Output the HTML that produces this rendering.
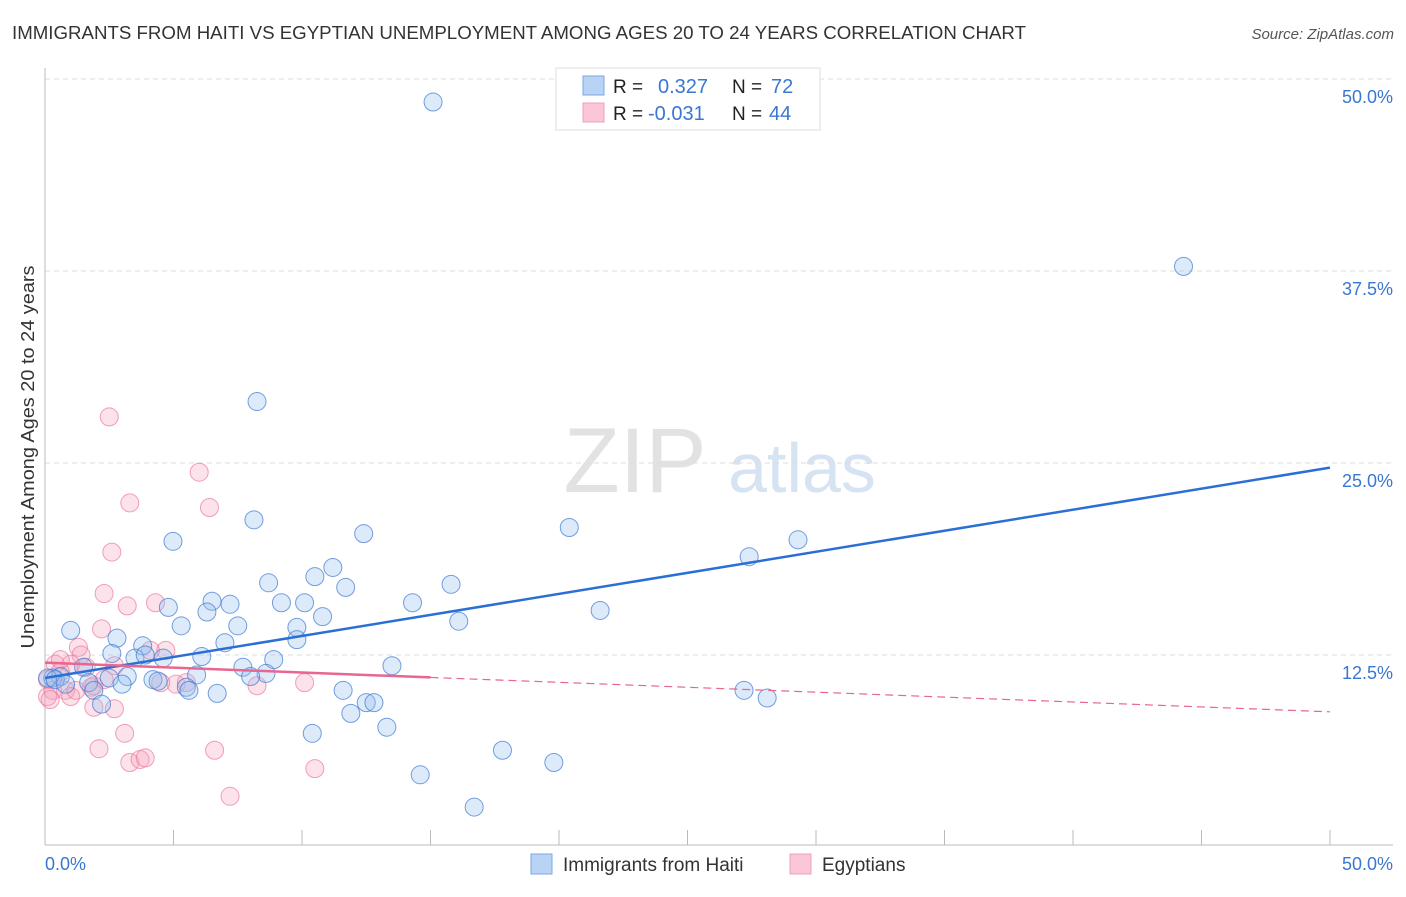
<!DOCTYPE html>
<html><head><meta charset="utf-8"><style>
body{margin:0;background:#fff;font-family:"Liberation Sans",sans-serif;}
svg text{font-family:"Liberation Sans",sans-serif;}
</style></head><body>
<svg id="chart" width="1406" height="892">
<text x="12" y="39" font-size="18" fill="#333" textLength="1014" lengthAdjust="spacingAndGlyphs">IMMIGRANTS FROM HAITI VS EGYPTIAN UNEMPLOYMENT AMONG AGES 20 TO 24 YEARS CORRELATION CHART</text>
<text x="1394" y="39" font-size="15" fill="#555" font-style="italic" text-anchor="end">Source: ZipAtlas.com</text>
<text x="635" y="492" font-size="92" fill="#e2e2e2" font-family="Liberation Serif" text-anchor="middle">ZIP</text>
<text x="802" y="492" font-size="70" fill="#d5e3f3" text-anchor="middle">atlas</text>
<text transform="translate(34,457) rotate(-90)" font-size="18" fill="#333" text-anchor="middle" textLength="383" lengthAdjust="spacingAndGlyphs">Unemployment Among Ages 20 to 24 years</text>
<g id="grid"></g><g id="pts"></g><g id="lines"></g>
<g>
<rect x="556" y="68" width="264" height="62" fill="#fff" stroke="#ddd"/>
<rect x="583" y="76" width="21" height="19" fill="#b9d3f5" stroke="#7aa7e4"/>
<rect x="583" y="103" width="21" height="19" fill="#fbc7d6" stroke="#eea0b8"/>
<text x="613" y="93" font-size="19" fill="#222">R =</text><text x="658" y="93" font-size="20" fill="#3a77d0">0.327</text>
<text x="732" y="93" font-size="19" fill="#222">N =</text><text x="771" y="93" font-size="20" fill="#3a77d0">72</text>
<text x="613" y="120" font-size="19" fill="#222">R =</text><text x="648" y="120" font-size="20" fill="#3a77d0">-0.031</text>
<text x="732" y="120" font-size="19" fill="#222">N =</text><text x="769" y="120" font-size="20" fill="#3a77d0">44</text>
</g>
<g>
<rect x="531" y="854" width="21" height="20" fill="#b9d3f5" stroke="#7aa7e4"/>
<text x="563" y="871" font-size="19" fill="#333">Immigrants from Haiti</text>
<rect x="790" y="854" width="21" height="20" fill="#fbc7d6" stroke="#eea0b8"/>
<text x="822" y="871" font-size="19" fill="#333">Egyptians</text>
</g>
</svg>
<script>
const blueX=[15.1,44.3,8.25,8.13,12.4,20.4,4.98,29.3,27.4,11.2,10.5,8.7,11.7,15.8,4.8,6.5,7.2,6.3,9.2,10.1,10.8,14.3,21.6,16.1,5.3,1.0,7.5,9.8,9.8,2.8,7.0,3.8,2.6,3.5,4.6,3.9,6.1,8.9,13.5,7.7,8.6,1.5,0.6,0.3,2.5,3.2,4.2,4.4,5.9,8.0,1.7,3.0,1.9,5.5,5.6,6.7,11.6,27.2,28.1,2.2,12.5,12.8,11.9,10.4,13.3,17.8,19.8,14.6,16.7,0.1,0.4,0.8];
const blueY=[48.5,37.8,29.0,21.3,20.4,20.8,19.9,20.0,18.9,18.2,17.6,17.2,16.9,17.1,15.6,16.0,15.8,15.3,15.9,15.9,15.0,15.9,15.4,14.7,14.4,14.1,14.4,14.3,13.5,13.6,13.3,13.1,12.6,12.3,12.3,12.5,12.4,12.2,11.8,11.7,11.3,11.7,11.1,11.0,11.0,11.1,10.9,10.8,11.2,11.1,10.7,10.6,10.2,10.4,10.2,10.0,10.2,10.2,9.7,9.3,9.4,9.4,8.7,7.4,7.8,6.3,5.5,4.7,2.6,11.0,10.9,10.6];
const pinkX=[2.5,6.0,6.4,3.3,2.6,2.3,3.2,4.3,2.2,1.3,1.4,4.7,4.1,2.7,1.0,0.4,0.6,0.1,0.3,0.1,0.8,1.0,1.2,1.8,1.9,2.3,5.1,5.5,4.5,8.25,10.1,1.9,2.7,3.1,2.1,6.6,3.3,3.7,3.9,10.5,7.2,0.6,1.6,0.2];
const pinkY=[28.0,24.4,22.1,22.4,19.2,16.5,15.7,15.9,14.2,13.0,12.5,12.8,12.8,11.8,11.9,11.9,11.4,10.9,10.2,9.8,10.2,9.8,10.2,10.4,10.5,10.9,10.6,10.7,10.7,10.5,10.7,9.1,9.0,7.4,6.4,6.3,5.5,5.7,5.8,5.1,3.3,12.2,11.7,9.6];
const blueTrend=[11.0,24.7];
const pinkTrend=[12.0,8.8];
const yTicks=[12.5,25.0,37.5,50.0];
const xTicks=[0,5,10,15,20,25,30,35,40,45,50];
const NS="http://www.w3.org/2000/svg";
const X=v=>45+v/50*1285, Y=v=>847-v/12.5*192;
function mk(tag,attrs,parent,text){const e=document.createElementNS(NS,tag);for(const k in attrs)e.setAttribute(k,attrs[k]);if(text!==undefined)e.textContent=text;parent.appendChild(e);return e;}
const grid=document.getElementById('grid');
yTicks.forEach(t=>{
 const l=mk('line',{x1:45,x2:1393,y1:Y(t),y2:Y(t),stroke:'#ddd','stroke-dasharray':'5,4'},grid);
 
 
 const tx=mk('text',{x:1393,y:Y(t)+24,'font-size':18,fill:'#3a77d0','text-anchor':'end'},grid,t.toFixed(1)+'%');
 
 
});
const ax=mk('line',{x1:45,x2:45,y1:68,y2:845,stroke:'#bbb'},grid);


const bx=mk('line',{x1:45,x2:1393,y1:845,y2:845,stroke:'#bbb'},grid);


xTicks.forEach(t=>{
 const l=mk('line',{x1:X(t),x2:X(t),y1:830,y2:845,stroke:'#bbb'},grid);
 
 
});
const xl0=mk('text',{x:45,y:870,'font-size':18,fill:'#3a77d0'},grid,'0.0%');


const xl1=mk('text',{x:1393,y:870,'font-size':18,fill:'#3a77d0','text-anchor':'end'},grid,'50.0%');


const pts=document.getElementById('pts');
pinkX.forEach((x,i)=>{
 const c=mk('circle',{cx:X(x),cy:Y(pinkY[i]),r:9,fill:'rgba(246,160,187,0.3)',stroke:'rgba(236,120,156,0.7)','stroke-width':1},pts);
 
 
});
blueX.forEach((x,i)=>{
 const c=mk('circle',{cx:X(x),cy:Y(blueY[i]),r:9,fill:'rgba(150,190,240,0.33)',stroke:'rgba(60,120,210,0.7)','stroke-width':1},pts);
 
 
});
const lines=document.getElementById('lines');
const bl=mk('line',{x1:X(0),y1:Y(blueTrend[0]),x2:X(50),y2:Y(blueTrend[1]),stroke:'#2b6fd6','stroke-width':2.5},lines);


const pAt=v=>pinkTrend[0]+(pinkTrend[1]-pinkTrend[0])*v/50;
const pl=mk('line',{x1:X(0),y1:Y(pAt(0)),x2:X(15),y2:Y(pAt(15)),stroke:'#e8668f','stroke-width':2.5},lines);


const pd=mk('line',{x1:X(15),y1:Y(pAt(15)),x2:X(50),y2:Y(pAt(50)),stroke:'#e8668f','stroke-width':1.2,'stroke-dasharray':'8,5'},lines);


</script>
</body></html>
